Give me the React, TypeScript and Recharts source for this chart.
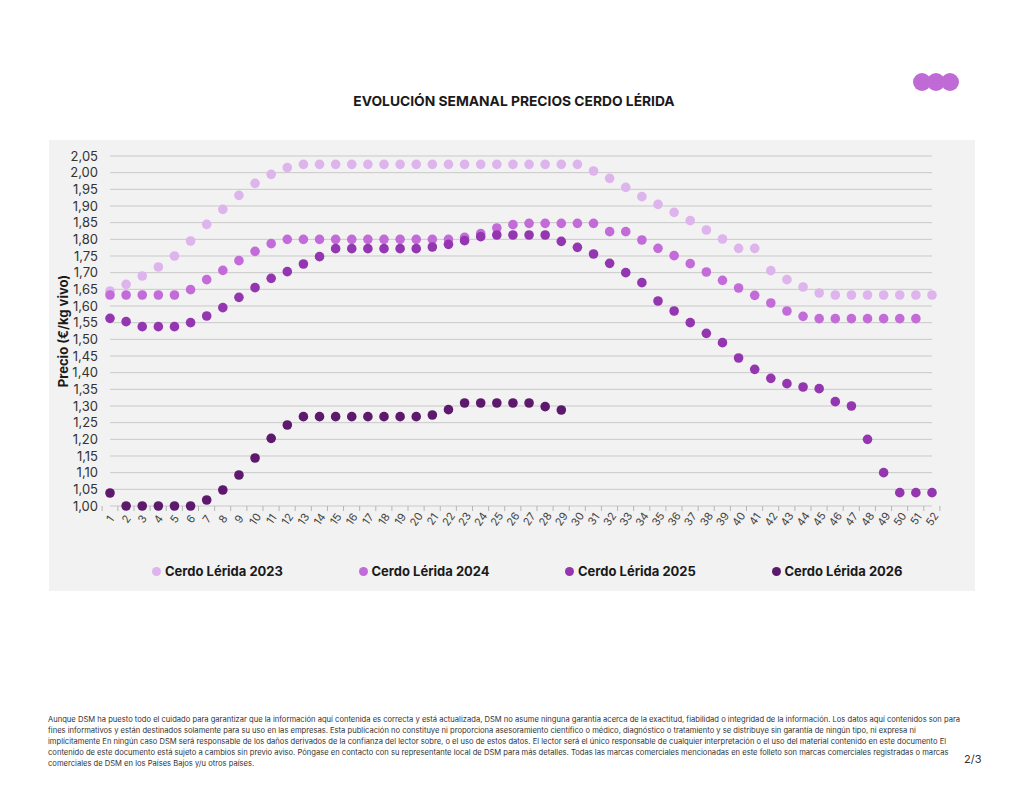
import React from 'react';
import { LineChart, Line, XAxis, YAxis, CartesianGrid } from 'recharts';

// weekly pig prices, Lleida market (€/kg live weight)
const weeks = Array.from({ length: 52 }, (_, i) => String(i + 1));

const yTicks = [
  1.0, 1.05, 1.1, 1.15, 1.2, 1.25, 1.3, 1.35, 1.4, 1.45, 1.5,
  1.55, 1.6, 1.65, 1.7, 1.75, 1.8, 1.85, 1.9, 1.95, 2.0, 2.05,
];

const price2023 = [
  1.645, 1.665, 1.69, 1.717, 1.75, 1.795, 1.845, 1.89, 1.932, 1.968, 1.995, 2.015,
  2.025, 2.025, 2.025, 2.025, 2.025, 2.025, 2.025, 2.025, 2.025, 2.025, 2.025, 2.025,
  2.025, 2.025, 2.025, 2.025, 2.025, 2.025,
  2.005, 1.983, 1.956, 1.928, 1.905, 1.881, 1.856, 1.828, 1.801, 1.773, 1.773,
  1.706, 1.679, 1.657, 1.639, 1.633, 1.633, 1.633, 1.633, 1.633, 1.633, 1.633,
];

const price2024 = [
  1.633, 1.633, 1.633, 1.633, 1.633, 1.649, 1.679, 1.707, 1.736, 1.764, 1.787, 1.8,
  1.8, 1.8, 1.8, 1.8, 1.8, 1.8, 1.8, 1.8, 1.8, 1.8,
  1.806, 1.817, 1.834, 1.844, 1.848, 1.848, 1.848, 1.848, 1.848,
  1.823, 1.823, 1.798, 1.773, 1.751, 1.727, 1.702, 1.677, 1.654, 1.632, 1.609, 1.585, 1.569,
  1.562, 1.562, 1.562, 1.562, 1.562, 1.562, 1.562, null,
];

const price2025 = [
  1.563, 1.553, 1.538, 1.538, 1.538, 1.55, 1.57, 1.595, 1.626, 1.655, 1.683, 1.703,
  1.726, 1.748, 1.772, 1.772, 1.772, 1.772, 1.772, 1.772,
  1.777, 1.785, 1.796, 1.808, 1.813, 1.813, 1.813, 1.813,
  1.794, 1.776, 1.756, 1.728, 1.7, 1.67, 1.615, 1.585, 1.55, 1.518, 1.49, 1.444,
  1.41, 1.383, 1.367, 1.357, 1.352, 1.313, 1.3, 1.2, 1.1, 1.04, 1.04, 1.04,
];

const price2026 = [
  1.039, 1.0, 1.0, 1.0, 1.0, 1.0, 1.018, 1.048, 1.093, 1.144, 1.203, 1.243,
  1.268, 1.268, 1.268, 1.268, 1.268, 1.268, 1.268, 1.268,
  1.273, 1.289, 1.309, 1.309, 1.309, 1.309, 1.309, 1.298, 1.288,
];

const series = [
  { key: 'c2023', name: 'Cerdo Lérida 2023', color: '#ddb4ec', values: price2023 },
  { key: 'c2024', name: 'Cerdo Lérida 2024', color: '#c36cd9', values: price2024 },
  { key: 'c2025', name: 'Cerdo Lérida 2025', color: '#9436b0', values: price2025 },
  { key: 'c2026', name: 'Cerdo Lérida 2026', color: '#5d1a6d', values: price2026 },
];

const data = weeks.map((week, i) => {
  const row: Record<string, string | number | null> = { week };
  series.forEach((s) => {
    row[s.key] = s.values[i] ?? null;
  });
  return row;
});

const disclaimer = [
  'Aunque DSM ha puesto todo el cuidado para garantizar que la información aquí contenida es correcta y está actualizada, DSM no asume ninguna garantía acerca de la exactitud, fiabilidad o integridad de la información. Los datos aquí contenidos son para',
  'fines informativos y están destinados solamente para su uso en las empresas. Esta publicación no constituye ni proporciona asesoramiento científico o médico, diagnóstico o tratamiento y se distribuye sin garantía de ningún tipo, ni expresa ni',
  'implícitamente En ningún caso DSM será responsable de los daños derivados de la confianza del lector sobre, o el uso de estos datos. El lector será el único responsable de cualquier interpretación o el uso del material contenido en este documento El',
  'contenido de este documento está sujeto a cambios sin previo aviso. Póngase en contacto con su representante local de DSM para más detalles. Todas las marcas comerciales mencionadas en este folleto son marcas comerciales registradas o marcas',
  'comerciales de DSM en los Países Bajos y/u otros países.',
];

const FONT = 'Inter, "Noto Sans", sans-serif';
const CHART_W = 926;
const CHART_H = 451;
const PLOT_W = 822;
const BAND = PLOT_W / weeks.length;

const fmt = (v: number) => v.toFixed(2).replace('.', ',');

const WeekTick = (props: any) => {
  const { x, y, payload, index } = props;
  const half = BAND / 2;
  return (
    <g>
      {index === 0 && <line x1={x - half} x2={x - half} y1={y} y2={y + 5} stroke="#b5b5b5" />}
      <line x1={x + half} x2={x + half} y1={y} y2={y + 5} stroke="#b5b5b5" />
      <text
        transform={`translate(${x},${y + 13}) rotate(-55)`}
        textAnchor="middle"
        dominantBaseline="central"
        fontSize={11}
        fontFamily={FONT}
        fill="#444"
      >
        {payload.value}
      </text>
    </g>
  );
};

export default function App() {
  return (
    <div
      style={{
        position: 'absolute',
        left: 0,
        top: 0,
        width: 1024,
        height: 791,
        overflow: 'hidden',
        background: '#fff',
        fontFamily: FONT,
        color: '#1a1a1a',
      }}
    >
      {/* logo dots */}
      <svg style={{ position: 'absolute', left: 910, top: 70 }} width={54} height={24}>
        <circle cx={12} cy={12} r={9} fill="#c06ad6" />
        <circle cx={26} cy={12} r={9} fill="#c06ad6" />
        <circle cx={40} cy={12} r={9} fill="#c06ad6" />
      </svg>

      <div
        style={{
          position: 'absolute',
          left: 4,
          width: 1020,
          top: 93,
          textAlign: 'center',
          fontWeight: 700,
          fontSize: 13.8,
          letterSpacing: 0,
        }}
      >
        EVOLUCIÓN SEMANAL PRECIOS CERDO LÉRIDA
      </div>

      <div style={{ position: 'absolute', left: 49, top: 140, width: CHART_W, height: CHART_H, background: '#f2f2f2' }}>
        <LineChart width={CHART_W} height={CHART_H} data={data} margin={{ top: 16, right: 3, bottom: 55, left: 11 }}>
          <CartesianGrid vertical={false} stroke="#c9c9c9" yAxisId="left" />
          <XAxis
            dataKey="week"
            interval={0}
            tickLine={false}
            axisLine={false}
            tickSize={0}
            tickMargin={0}
            height={30}
            tick={<WeekTick />}
          />
          <YAxis
            yAxisId="left"
            domain={[1, 2.05]}
            ticks={yTicks}
            interval={0}
            width={50}
            axisLine={false}
            tickLine={false}
            tickSize={0}
            tickMargin={12}
            tickFormatter={fmt}
            tick={{ fontSize: 13, fill: '#333', fontFamily: FONT }}
            label={{
              value: 'Precio (€/kg vivo)',
              angle: -90,
              position: 'insideLeft',
              offset: 3,
              style: { textAnchor: 'middle', fontWeight: 700, fontSize: 13, fill: '#1a1a1a', fontFamily: FONT },
            }}
          />
          <YAxis
            yAxisId="right"
            orientation="right"
            domain={[1, 2.05]}
            ticks={yTicks}
            interval={0}
            width={40}
            axisLine={false}
            tickLine={false}
            tickSize={0}
            tickMargin={13}
            tickFormatter={fmt}
            tick={{ fontSize: 13, fill: '#333', fontFamily: FONT }}
          />
          {series.map((s) => (
            <Line
              key={s.key}
              yAxisId="left"
              dataKey={s.key}
              name={s.name}
              stroke="none"
              strokeWidth={0}
              dot={{ r: 4.8, fill: s.color, stroke: s.color, strokeWidth: 0 }}
              activeDot={false}
              isAnimationActive={false}
            />
          ))}
        </LineChart>
      </div>

      {/* legend */}
      {series.map((s, i) => (
        <div
          key={s.key}
          style={{
            position: 'absolute',
            left: 152 + i * 206.5,
            top: 563,
            display: 'flex',
            alignItems: 'center',
            fontWeight: 700,
            fontSize: 13,
            whiteSpace: 'nowrap',
          }}
        >
          <span
            style={{ width: 9, height: 9, borderRadius: '50%', background: s.color, marginRight: 4, display: 'inline-block' }}
          />
          {s.name}
        </div>
      ))}

      <div style={{ position: 'absolute', left: 48, top: 714, fontSize: 7.6, lineHeight: '11px', color: '#333' }}>
        {disclaimer.map((line, i) => (
          <div key={i} style={{ whiteSpace: 'nowrap' }}>
            {line}
          </div>
        ))}
      </div>
      <div style={{ position: 'absolute', left: 964, top: 752, fontSize: 11, color: '#333' }}>2/3</div>
    </div>
  );
}
